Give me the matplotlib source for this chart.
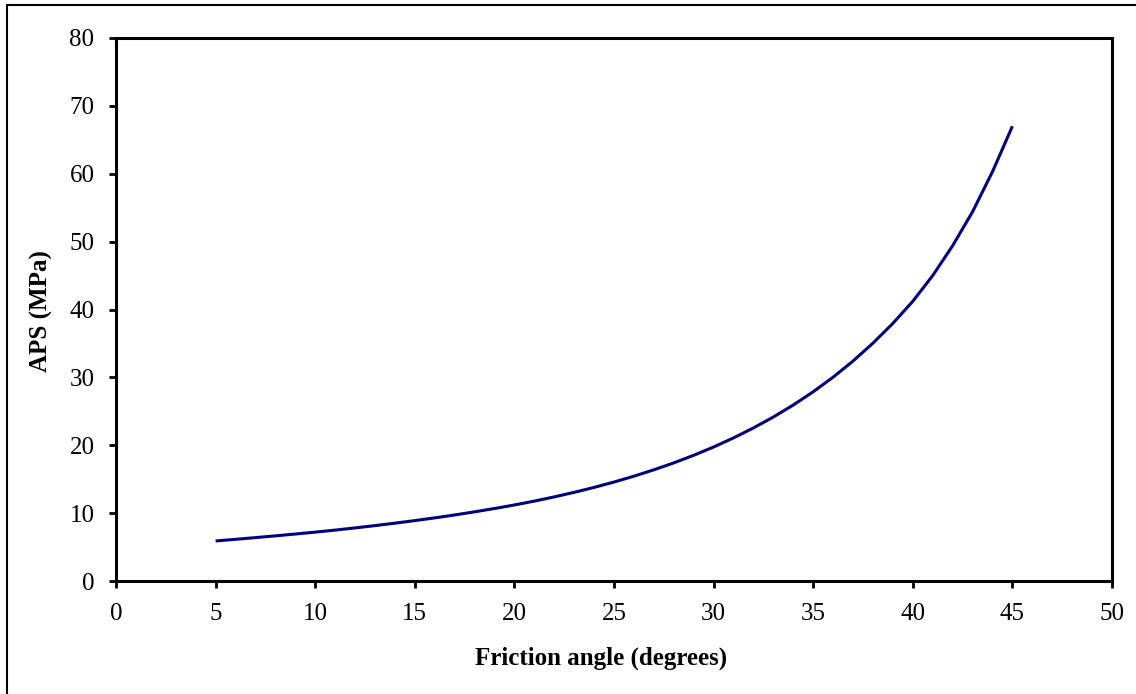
import matplotlib
matplotlib.use("Agg")
import matplotlib.pyplot as plt
from matplotlib.patches import Rectangle

# friction angle (degrees) vs APS (MPa)
friction_angle = [5, 6, 7, 8, 9, 10, 11, 12, 13, 14, 15, 16, 17, 18, 19, 20,
                  21, 22, 23, 24, 25, 26, 27, 28, 29, 30, 31, 32, 33, 34, 35,
                  36, 37, 38, 39, 40, 41, 42, 43, 44, 45]
aps = [5.90, 6.14, 6.39, 6.65, 6.92, 7.20, 7.50, 7.82, 8.16, 8.52, 8.90,
       9.30, 9.73, 10.19, 10.68, 11.20, 11.77, 12.39, 13.06, 13.79, 14.58,
       15.44, 16.38, 17.40, 18.52, 19.74, 21.08, 22.55, 24.16, 25.93, 27.88,
       30.03, 32.41, 35.04, 37.96, 41.21, 45.0, 49.4, 54.4, 60.3, 67.0]

x_ticks = [0, 5, 10, 15, 20, 25, 30, 35, 40, 45, 50]
y_ticks = [0, 10, 20, 30, 40, 50, 60, 70, 80]

plt.rcParams['font.family'] = ['Liberation Serif', 'DejaVu Serif']

fig = plt.figure(figsize=(11.36, 6.94), dpi=100)
ax = fig.add_axes([116 / 1136, 113 / 694, 996 / 1136, 543 / 694])

# outer frame around the chart area
fig.patches.append(Rectangle((7 / 1136, -0.05), 1.1, 1.05 - 5 / 694,
                             transform=fig.transFigure, fill=False,
                             edgecolor='black', linewidth=1.5))

ax.plot(friction_angle, aps, color='#000080', linewidth=2.2,
        solid_capstyle='butt', solid_joinstyle='round')

ax.set_xlim(0, 50)
ax.set_ylim(0, 80)
ax.set_xticks(x_ticks)
ax.set_yticks(y_ticks)
ax.tick_params(direction='out', length=5, width=2, labelsize=18, pad=10.5)

for s in ax.spines.values():
    s.set_linewidth(2.2)

ax.set_xlabel("Friction angle (degrees)", fontsize=18, fontweight='bold')
ax.set_ylabel("APS (MPa)", fontsize=18, fontweight='bold')
ax.xaxis.set_label_coords(0.4875, -0.1215)
ax.yaxis.set_label_coords(-0.0632, 0.498)

fig.savefig("out.png", dpi=100)
